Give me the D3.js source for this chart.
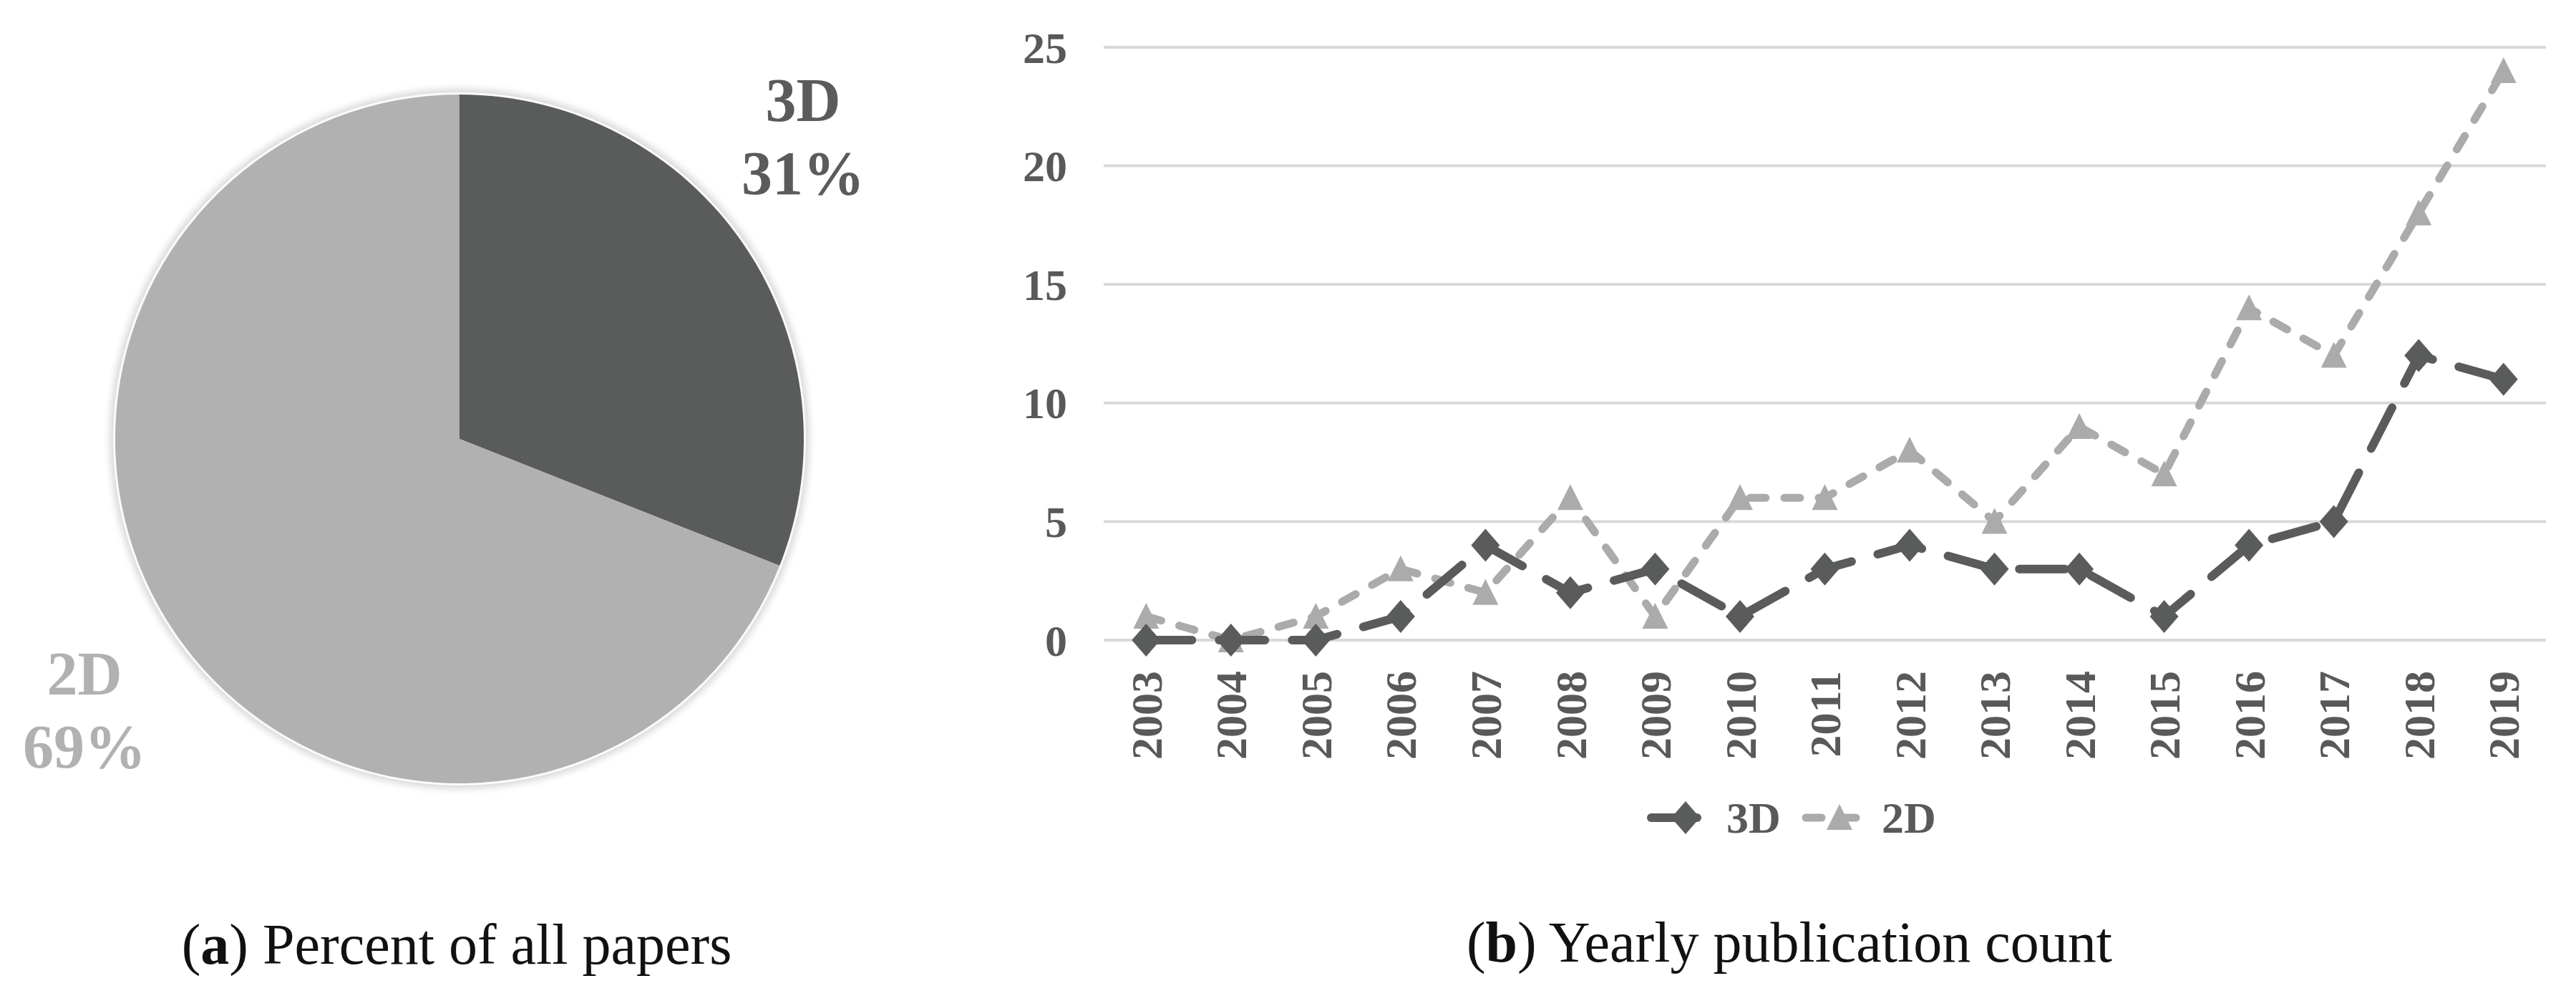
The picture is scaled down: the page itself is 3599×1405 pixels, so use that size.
<!DOCTYPE html>
<html>
<head>
<meta charset="utf-8">
<script src="https://cdn.jsdelivr.net/npm/d3@7"></script>
<style>
  html, body { margin: 0; padding: 0; background: #fff; }
  svg { display: block; }
</style>
</head>
<body>
<div id="chart"></div>
<script>
// pie (a)
const pieLabels = ["3D", "2D"];
const pieValues = [31, 69];

// line chart (b)
const years = ["2003", "2004", "2005", "2006", "2007", "2008", "2009", "2010", "2011",
  "2012", "2013", "2014", "2015", "2016", "2017", "2018", "2019"];
const series3D = [0, 0, 0, 1, 4, 2, 3, 1, 3, 4, 3, 3, 1, 4, 5, 12, 11];
const series2D = [1, 0, 1, 3, 2, 6, 1, 6, 6, 8, 5, 9, 7, 14, 12, 18, 24];
const yTicks = [0, 5, 10, 15, 20, 25];

const captions = [
  { key: "a", text: " Percent of all papers" },
  { key: "b", text: " Yearly publication count" }
];

const dark = "#5a5b5b";
const light = "#b1b1b1";
const lineLight = "#ababab";
const boldSerif = "'Liberation Serif', 'Times New Roman', serif";

document.addEventListener("DOMContentLoaded", setup);

function setup() {
  const svg = d3
    .select("#chart")
    .append("svg")
    .attr("width", 3599)
    .attr("height", 1405);

  svg
    .append("defs")
    .append("filter")
    .attr("id", "halo")
    .attr("x", "-10%")
    .attr("y", "-10%")
    .attr("width", "120%")
    .attr("height", "120%")
    .append("feGaussianBlur")
    .attr("stdDeviation", 5);

  drawPie(svg);
  drawLines(svg);
  drawCaptions(svg);
}

function drawPie(svg) {
  const cx = 642;
  const cy = 613;
  const r = 481;
  const g = svg.append("g").attr("transform", "translate(" + cx + "," + cy + ")");

  g.append("circle").attr("r", r + 8).attr("fill", "#dadada").attr("filter", "url(#halo)");
  g.append("circle").attr("r", r + 3).attr("fill", "#fbfbfb");

  const pie = d3.pie().sort(null).value((d) => d);
  const arc = d3.arc().innerRadius(0).outerRadius(r);
  const colors = [dark, light];

  g.selectAll("path.slice")
    .data(pie(pieValues))
    .enter()
    .append("path")
    .attr("class", "slice")
    .attr("d", arc)
    .attr("fill", (d, i) => colors[i]);

  // labels sit outside the slices, like excel's "best fit"
  const labelPos = [
    { x: 1122, y: 169 },
    { x: 118, y: 970 }
  ];
  const labels = svg
    .selectAll("text.pielabel")
    .data(pieLabels)
    .enter()
    .append("text")
    .attr("class", "pielabel")
    .attr("x", (d, i) => labelPos[i].x)
    .attr("y", (d, i) => labelPos[i].y)
    .attr("text-anchor", "middle")
    .attr("font-family", boldSerif)
    .attr("font-weight", "bold")
    .attr("font-size", 86)
    .attr("fill", (d, i) => colors[i]);
  labels.append("tspan").text((d) => d);
  labels
    .append("tspan")
    .attr("x", (d, i) => labelPos[i].x)
    .attr("dy", 102)
    .text((d, i) => pieValues[i] + "%");
}

function drawLines(svg) {
  const x = d3.scalePoint().domain(years).range([1542, 3557]).padding(0.5);
  const y = d3.scaleLinear().domain([0, 25]).range([894, 66]);

  // gridlines
  svg
    .append("g")
    .selectAll("line")
    .data(yTicks)
    .enter()
    .append("line")
    .attr("x1", 1542)
    .attr("x2", 3557)
    .attr("y1", (d) => y(d))
    .attr("y2", (d) => y(d))
    .attr("stroke", "#d9d9d9")
    .attr("stroke-width", 4);

  const yAxis = d3.axisLeft(y).tickValues(yTicks).tickSize(0).tickPadding(0);
  const gy = svg.append("g").attr("transform", "translate(1491,0)").call(yAxis);
  gy.select(".domain").remove();
  gy.selectAll("text")
    .attr("font-family", boldSerif)
    .attr("font-weight", "bold")
    .attr("font-size", 62)
    .attr("fill", "#595959")
    .attr("dy", "0.34em");

  const xAxis = d3.axisBottom(x).tickSize(0).tickPadding(0);
  const gx = svg.append("g").attr("transform", "translate(0,937)").call(xAxis);
  gx.select(".domain").remove();
  gx.selectAll("text")
    .attr("font-family", boldSerif)
    .attr("font-weight", "bold")
    .attr("font-size", 62)
    .attr("fill", "#595959")
    .attr("text-anchor", "end")
    .attr("transform", "rotate(-90)")
    .attr("x", 0)
    .attr("y", 0)
    .attr("dy", "0.34em");

  const line = d3
    .line()
    .x((d, i) => x(years[i]))
    .y((d) => y(d));

  const diamond = "M0,-23L20,0L0,23L-20,0Z";
  const triangle = "M0,-19L18,17L-18,17Z";

  const seriesList = [
    { name: "3D", values: series3D, color: dark, width: 12, dash: "64,38", marker: diamond },
    { name: "2D", values: series2D, color: lineLight, width: 11, dash: "22,26", marker: triangle }
  ];

  // 2D is drawn first so the dark line sits on top where they cross
  seriesList
    .slice()
    .reverse()
    .forEach((s) => {
      svg
        .append("path")
        .datum(s.values)
        .attr("d", line)
        .attr("fill", "none")
        .attr("stroke", s.color)
        .attr("stroke-width", s.width)
        .attr("stroke-dasharray", s.dash)
        .attr("stroke-linecap", "round")
        .attr("stroke-linejoin", "round");
    });

  seriesList
    .slice()
    .reverse()
    .forEach((s) => {
      svg
        .append("g")
        .selectAll("path")
        .data(s.values)
        .enter()
        .append("path")
        .attr("d", s.marker)
        .attr("transform", (d, i) => "translate(" + x(years[i]) + "," + y(d) + ")")
        .attr("fill", s.color);
    });

  // legend
  const legendPos = [
    { x1: 2307, x2: 2407, mx: 2355, tx: 2412 },
    { x1: 2523, x2: 2603, mx: 2570, tx: 2629 }
  ];
  const legendY = 1142;
  const legend = svg
    .append("g")
    .selectAll("g")
    .data(seriesList)
    .enter()
    .append("g");
  legend
    .append("line")
    .attr("x1", (d, i) => legendPos[i].x1)
    .attr("x2", (d, i) => legendPos[i].x2)
    .attr("y1", legendY)
    .attr("y2", legendY)
    .attr("stroke", (d) => d.color)
    .attr("stroke-width", (d) => d.width)
    .attr("stroke-dasharray", (d) => d.dash)
    .attr("stroke-linecap", "round");
  legend
    .append("path")
    .attr("d", (d) => d.marker)
    .attr("transform", (d, i) => "translate(" + legendPos[i].mx + "," + legendY + ")")
    .attr("fill", (d) => d.color);
  legend
    .append("text")
    .attr("x", (d, i) => legendPos[i].tx)
    .attr("y", 1163)
    .attr("font-family", boldSerif)
    .attr("font-weight", "bold")
    .attr("font-size", 62)
    .attr("fill", "#595959")
    .text((d) => d.name);
}

function drawCaptions(svg) {
  const capPos = [
    { x: 638, y: 1346 },
    { x: 2500, y: 1343 }
  ];
  const caps = svg
    .selectAll("text.caption")
    .data(captions)
    .enter()
    .append("text")
    .attr("class", "caption")
    .attr("x", (d, i) => capPos[i].x)
    .attr("y", (d, i) => capPos[i].y)
    .attr("text-anchor", "middle")
    .attr("font-family", "'Liberation Serif', 'Times New Roman', serif")
    .attr("font-size", 80)
    .attr("fill", "#111");
  caps.append("tspan").text("(");
  caps.append("tspan").attr("font-weight", "bold").text((d) => d.key);
  caps.append("tspan").text((d) => ")" + d.text);
}
</script>
</body>
</html>
